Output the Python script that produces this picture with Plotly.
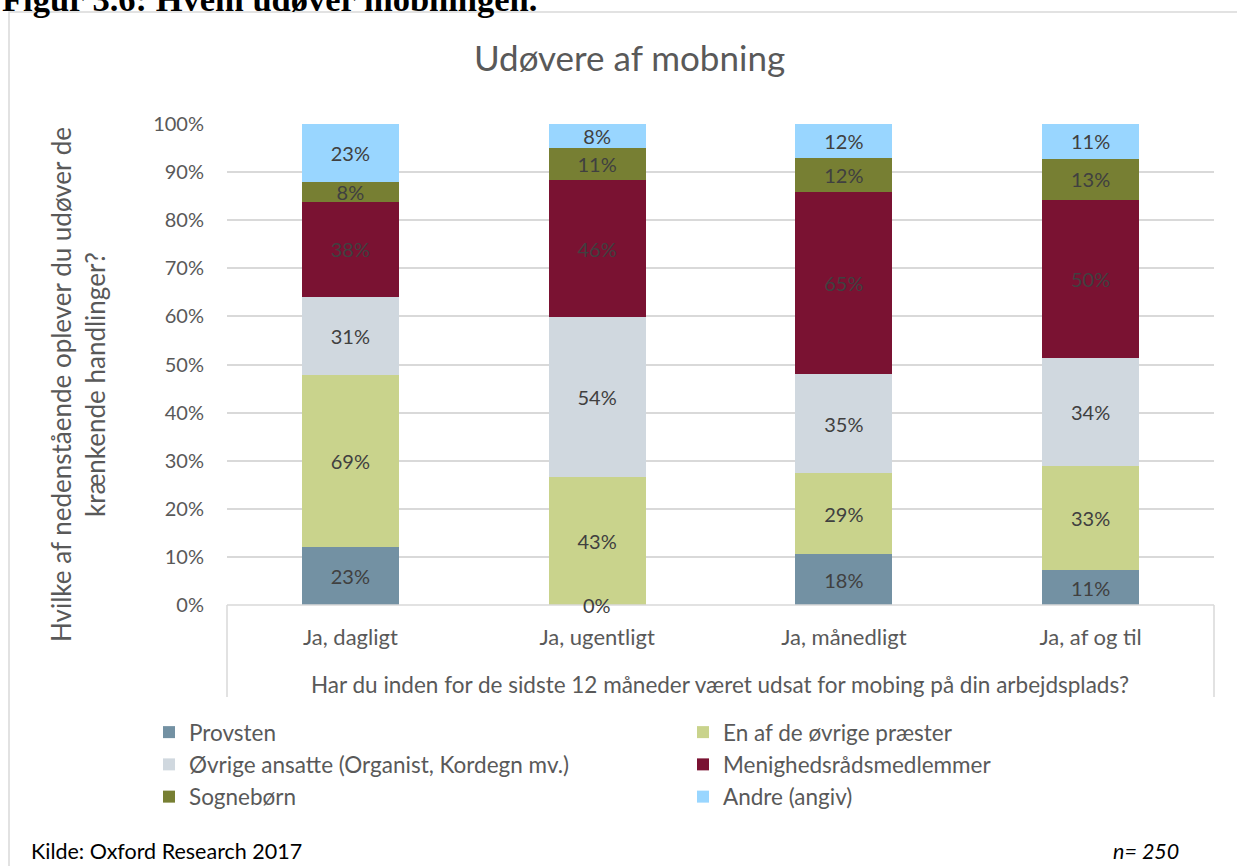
import plotly.graph_objects as go

# -----------------------------
# Data (labels are raw shares, bar heights are normalised to 100%)
# -----------------------------
categories = ["Ja, dagligt", "Ja, ugentligt", "Ja, månedligt", "Ja, af og til"]

provsten = [23, 0, 18, 11]
praester = [69, 43, 29, 33]
ansatte = [31, 54, 35, 34]
menighedsraad = [38, 46, 65, 50]
sogneboern = [8, 11, 12, 13]
andre = [23, 8, 12, 11]

series_names = [
    "Provsten",
    "En af de øvrige præster",
    "Øvrige ansatte (Organist, Kordegn mv.)",
    "Menighedsrådsmedlemmer",
    "Sognebørn",
    "Andre (angiv)",
]
series_values = [provsten, praester, ansatte, menighedsraad, sogneboern, andre]
colors = ["#7391A3", "#C9D38C", "#D0D8DF", "#7A1232", "#777F33", "#99D6FF"]

y_ticks = list(range(0, 101, 10))
y_ticktext = [f"{v}%" for v in y_ticks]

FONT = "Lato"
GREY = "#595959"
LABEL = "#404040"

W, H = 1237, 866
L, R, T, B = 227, 23, 124, 261
PW, PH = W - L - R, H - T - B


def px_x(p):
    return (p - L) / PW


def px_y(p):
    return (H - B - p) / PH


fig = go.Figure()

for name, vals, col in zip(series_names, series_values, colors):
    fig.add_trace(go.Bar(
        x=categories,
        y=vals,
        name=name,
        marker=dict(color=col, line=dict(width=0)),
        text=[f"{v}%" for v in vals],
        textposition="inside",
        insidetextanchor="middle",
        textfont=dict(family=FONT, size=20, color=LABEL),
        hoverinfo="skip",
    ))

# zero-height segment still gets its label, like the original
for cat, v in zip(categories, provsten):
    if v == 0:
        fig.add_annotation(x=cat, y=0, text=f"{v}%", showarrow=False,
                           xref="x", yref="y", yanchor="middle",
                           font=dict(family=FONT, size=20, color=LABEL))

fig.update_layout(
    width=W, height=H,
    margin=dict(l=L, r=R, t=T, b=B),
    barmode="stack",
    barnorm="percent",
    bargap=0.607,
    plot_bgcolor="white",
    paper_bgcolor="white",
    uniformtext=dict(mode="show", minsize=20),
    font=dict(family=FONT, color=GREY),
    showlegend=True,
    legend=dict(
        orientation="h",
        traceorder="normal",
        x=px_x(149), xanchor="left",
        y=px_y(711), yanchor="top",
        entrywidth=489,
        font=dict(family=FONT, size=22.5, color=GREY),
        bgcolor="rgba(0,0,0,0)",
    ),
    xaxis=dict(
        showgrid=False,
        showline=False,
        ticks="",
        ticklabelstandoff=17,
        tickfont=dict(family=FONT, size=22, color=GREY),
    ),
    yaxis=dict(
        range=[0, 100],
        tickmode="array",
        tickvals=y_ticks,
        ticktext=y_ticktext,
        showgrid=True,
        gridcolor="#D9D9D9",
        gridwidth=1.5,
        zeroline=False,
        showline=False,
        ticks="",
        ticklabelstandoff=22,
        tickfont=dict(family=FONT, size=20, color=GREY),
    ),
)

# outer chart frame and category box
fig.add_shape(type="rect", xref="paper", yref="paper",
              x0=px_x(9), x1=px_x(1300), y0=px_y(12), y1=px_y(1000),
              line=dict(color="#D9D9D9", width=1.5), layer="below")
fig.add_shape(type="line", xref="paper", yref="paper",
              x0=0, x1=1, y0=0, y1=0, line=dict(color="#D9D9D9", width=1.5))
for xv in (0, 1):
    fig.add_shape(type="line", xref="paper", yref="paper",
                  x0=xv, x1=xv, y0=0, y1=px_y(697),
                  line=dict(color="#D9D9D9", width=1.5))

# texts
fig.add_annotation(text="<b>Figur 3.6: Hvem udøver mobningen.</b>",
                   xref="paper", yref="paper", x=px_x(0), y=px_y(-1),
                   xanchor="left", yanchor="middle", showarrow=False,
                   font=dict(family="Liberation Serif", size=34.5, color="black"))
fig.add_annotation(text="Udøvere af mobning",
                   xref="paper", yref="paper", x=px_x(629), y=px_y(57),
                   xanchor="center", yanchor="middle", showarrow=False,
                   font=dict(family=FONT, size=35, color=GREY))
fig.add_annotation(text="Hvilke af nedenstående oplever du udøver de<br>krænkende handlinger?",
                   xref="paper", yref="paper", x=px_x(78), y=px_y(385),
                   xanchor="center", yanchor="middle", showarrow=False,
                   textangle=-90,
                   font=dict(family=FONT, size=26, color=GREY))
fig.add_annotation(text="Har du inden for de sidste 12 måneder været udsat for mobing på din arbejdsplads?",
                   xref="paper", yref="paper", x=px_x(720), y=px_y(684),
                   xanchor="center", yanchor="middle", showarrow=False,
                   font=dict(family=FONT, size=22.5, color=GREY))
fig.add_annotation(text="Kilde: Oxford Research 2017",
                   xref="paper", yref="paper", x=px_x(29), y=px_y(851),
                   xanchor="left", yanchor="middle", showarrow=False,
                   font=dict(family=FONT, size=21.5, color="black"))
fig.add_annotation(text="<i>n= 250</i>",
                   xref="paper", yref="paper", x=px_x(1181), y=px_y(851),
                   xanchor="right", yanchor="middle", showarrow=False,
                   font=dict(family=FONT, size=21.5, color="black"))

# the page's default body margin would push the figure 8px off; drop it
fig.write_html("out.html", config={"displayModeBar": False},
               post_script="document.body.style.margin='0px';")
